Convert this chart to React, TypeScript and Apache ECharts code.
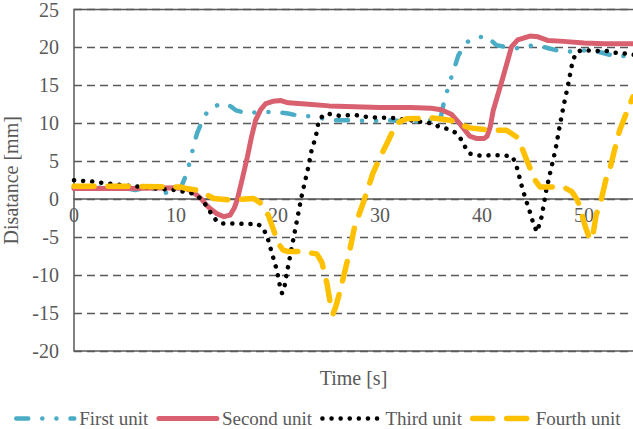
import React, { useEffect, useRef } from "react";
import * as echarts from "echarts";

const seriesNames = ["First unit", "Second unit", "Third unit", "Fourth unit"];

const firstT = [0, 1, 2, 3, 4, 5, 6, 7, 8, 8.7, 9.3, 10, 10.5, 10.9, 11.4, 11.8, 12.1, 12.7, 13.2, 13.7, 14.3, 14.9, 15.4, 15.9, 17, 18, 19.6, 21, 22, 23.5, 24.5, 25.5, 27, 29, 31, 33, 35, 35.9, 36.3, 36.9, 37.7, 38.3, 38.8, 39.5, 40.5, 41, 41.4, 42.5, 43.4, 44.5, 45.4, 46.5, 48, 50, 51.5, 53.2, 55];
const firstV = [1.5, 1.6, 1.5, 1.6, 1.4, 1.5, 1.2, 1.5, 1.3, 0.7, 1.0, 1.2, 1.6, 2.9, 5.1, 7.5, 8.8, 10.7, 11.8, 12.2, 12.5, 12.6, 12.2, 11.7, 11.3, 11.5, 11.5, 11.3, 11.0, 10.9, 10.6, 10.4, 10.4, 10.3, 10.4, 10.2, 10.4, 10.4, 13.0, 15.7, 19.0, 20.3, 21.0, 21.3, 21.5, 20.8, 20.3, 20.0, 19.9, 20.2, 20.3, 19.9, 19.4, 19.6, 19.4, 18.8, 19.0];

const secondT = [0, 5, 10.5, 11, 11.5, 12, 12.5, 13, 13.5, 14, 14.7, 15.3, 15.7, 16, 16.5, 17, 17.4, 17.8, 18.3, 18.8, 19.5, 20.3, 21, 23, 25, 27.5, 30, 33, 35, 36, 37, 37.8, 38.8, 39.5, 40.2, 40.5, 40.8, 41.1, 42, 42.9, 43.5, 44.7, 45.5, 46.5, 48, 50, 52, 55];
const secondV = [1.4, 1.4, 1.5, 1.4, 1.1, 0.6, 0.0, -0.8, -1.4, -1.9, -2.3, -2.1, -1.2, -0.1, 2.7, 5.6, 8.2, 10.4, 11.8, 12.6, 12.9, 13.0, 12.7, 12.5, 12.3, 12.2, 12.1, 12.1, 12.0, 11.8, 11.2, 10.0, 8.3, 8.0, 8.0, 8.3, 9.5, 11.7, 15.8, 20.1, 21.0, 21.5, 21.4, 20.9, 20.8, 20.6, 20.5, 20.5];

const thirdT = [0, 1, 2, 3, 4, 5, 6, 7, 8, 9, 10, 11, 11.5, 12, 12.5, 13, 13.5, 14, 14.5, 16, 17, 17.9, 18.4, 18.9, 19.4, 19.9, 20.2, 20.4, 20.6, 20.85, 21.3, 21.8, 22.3, 22.9, 23.3, 23.7, 24.0, 24.4, 24.8, 26, 27.5, 29, 31.3, 33, 35, 35.9, 36.8, 37.5, 38, 38.5, 38.8, 40, 40.8, 42, 43, 43.4, 44, 44.7, 45.1, 45.4, 45.85, 46.3, 46.7, 47.2, 47.6, 48, 48.4, 48.9, 49.3, 49.9, 51, 52, 53, 54, 55];
const thirdV = [2.5, 2.4, 2.3, 2.1, 2.0, 1.8, 1.7, 1.6, 1.4, 1.3, 1.2, 0.9, 0.8, 0.5, 0.0, -0.9, -2.0, -2.9, -3.2, -3.2, -3.3, -3.2, -3.6, -4.7, -7.1, -9.4, -11.5, -12.4, -11.8, -9.8, -6.7, -3.2, 0.3, 3.8, 6.5, 8.2, 10.4, 11.0, 11.3, 11.0, 11.1, 10.8, 10.7, 10.4, 10.0, 9.5, 9.2, 8.7, 7.8, 6.5, 6.0, 5.7, 5.8, 5.8, 5.6, 4.3, 1.2, -1.7, -3.5, -4.3, -2.3, 1.2, 3.6, 6.5, 9.5, 12.3, 14.8, 18.3, 19.4, 19.7, 19.5, 19.6, 19.3, 19.2, 19.0];

const fourthT = [0, 5, 10.5, 11, 12.1, 13, 13.7, 15.4, 17.6, 18.4, 19.05, 19.5, 20, 20.5, 21, 22.2, 23.8, 24.3, 24.8, 25.1, 25.4, 25.7, 26.1, 26.5, 26.9, 27.5, 28.4, 29.3, 30.0, 30.7, 31.6, 32.6, 35.2, 36.9, 38, 38.8, 40.8, 42.4, 43.4, 43.9, 44.4, 45.2, 45.7, 48, 48.8, 49.3, 49.6, 50.1, 50.6, 50.9, 51.2, 51.6, 52.2, 52.5, 53, 53.5, 54.2, 54.8];
const fourthV = [1.7, 1.7, 1.6, 1.4, 1.2, 0.6, 0.1, -0.1, 0.1, -0.6, -2.1, -3.8, -5.8, -6.7, -6.9, -6.9, -7.2, -8.3, -11.1, -13.5, -15.1, -14.0, -12.0, -9.8, -7.6, -3.7, -0.3, 3.4, 5.5, 7.4, 10.0, 10.6, 10.7, 10.4, 9.8, 9.4, 9.1, 9.1, 8.2, 6.8, 5.1, 2.5, 1.6, 1.6, 1.0, 0.0, -1.0, -3.5, -5.4, -4.5, -2.0, -0.6, 2.9, 3.8, 6.5, 9.1, 11.5, 13.5];

const xMin = 0;
const xMax = 55;
const xInterval = 10;
const yMin = -20;
const yMax = 25;
const yInterval = 5;

const pair = (t: number[], v: number[]) => t.map((x, i) => [x, v[i]]);

const FONT = "Liberation Serif";
const TEXT = "#595959";

const styles = [
  { color: "#4BACC6", width: 4.5, type: [12, 14, 0.1, 14, 0.1, 14] as any },
  { color: "#D9616F", width: 5, type: "solid" as any },
  { color: "#000000", width: 4.5, type: [0.1, 9] as any },
  { color: "#FFC000", width: 5.5, type: [20, 14] as any },
];

export default function App() {
  const ref = useRef<HTMLDivElement>(null);
  useEffect(() => {
    if (!ref.current) return;
    const chart = echarts.init(ref.current, undefined, { renderer: "svg" });
    chart.setOption({
      animation: false,
      backgroundColor: "#ffffff",
      grid: {
        left: 74,
        top: 9.5,
        right: 65,
        bottom: 78,
        show: true,
        borderColor: "#595959",
        borderWidth: 1.5,
        backgroundColor: "transparent",
        outerBoundsMode: "none",
        containLabel: false,
      },
      graphic: [
        {
          type: "text",
          x: 353.5,
          y: 378,
          style: {
            text: "Time [s]",
            font: "20px 'Liberation Serif'",
            fill: TEXT,
            align: "center",
            verticalAlign: "middle",
          },
        },
      ],
      legend: {
        top: 404,
        left: 9,
        itemWidth: 58,
        itemHeight: 18,
        itemGap: 8,
        itemStyle: { color: "transparent", borderColor: "transparent", borderWidth: 0, opacity: 0 },
        textStyle: { fontFamily: FONT, fontSize: 19, color: TEXT },
        data: seriesNames.map((n, i) => ({
          name: n,
          lineStyle: { color: styles[i].color, width: styles[i].width, type: styles[i].type, cap: "round" },
        })),
      },
      xAxis: {
        type: "value",
        min: xMin,
        max: xMax,
        interval: xInterval,
        axisLine: { onZero: true, lineStyle: { color: "#595959", width: 1.5 } },
        axisTick: { show: false },
        splitLine: { show: false },
        axisLabel: { fontFamily: FONT, fontSize: 20, color: TEXT, margin: -146, showMaxLabel: false },
      },
      yAxis: {
        type: "value",
        min: yMin,
        max: yMax,
        interval: yInterval,
        name: "Disatance [mm]",
        nameLocation: "middle",
        nameGap: 52,
        nameTextStyle: { fontFamily: FONT, fontSize: 20, color: TEXT },
        axisLine: { show: false },
        axisTick: { show: false },
        splitLine: { show: true, lineStyle: { color: "#595959", width: 1.3, type: [8, 5] } },
        axisLabel: { fontFamily: FONT, fontSize: 20, color: TEXT, margin: 15 },
      },
      series: [
        { t: firstT, v: firstV },
        { t: secondT, v: secondV },
        { t: thirdT, v: thirdV },
        { t: fourthT, v: fourthV },
      ].map((s, i) => ({
        name: seriesNames[i],
        type: "line",
        symbol: "none",
        data: pair(s.t, s.v),
        lineStyle: { color: styles[i].color, width: styles[i].width, type: styles[i].type, cap: "round", join: "round" },
        itemStyle: { color: styles[i].color },
      })),
    });
    return () => chart.dispose();
  }, []);
  return (
    <div style={{ position: "fixed", left: 0, top: 0, width: 633, height: 429, overflow: "hidden", background: "#fff" }}>
      <div ref={ref} style={{ width: 700, height: 429 }} />
    </div>
  );
}
